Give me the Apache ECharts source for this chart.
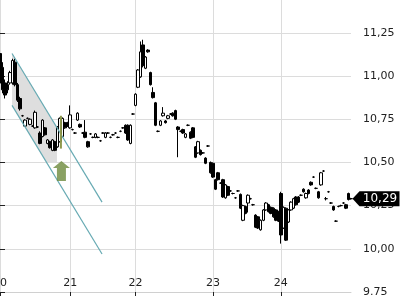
<!DOCTYPE html>
<html>
<head>
<meta charset="utf-8">
<style>
  html, body { margin: 0; padding: 0; background: #fff; }
  #chart-container { width: 400px; height: 300px; }
</style>
<script src="https://cdn.jsdelivr.net/npm/echarts@6.0.0/dist/echarts.min.js"></script>
</head>
<body>
<div id="chart-container"></div>
<script>
// one row per bar: [open, close, low, high]
const day20Bars = [
  [11.13, 10.96, 10.94, 11.20], [11.05, 10.92, 10.90, 11.08], [10.96, 10.89, 10.87, 10.98],
  [10.95, 10.92, 10.90, 10.97], [10.96, 11.02, 10.95, 11.03], [10.96, 11.09, 10.95, 11.10],
  [11.08, 10.95, 10.94, 11.10], [10.95, 10.86, 10.85, 10.96], [10.87, 10.81, 10.80, 10.88],
  [10.77, 10.77, 10.765, 10.775], [10.71, 10.745, 10.705, 10.75], [10.755, 10.755, 10.75, 10.76],
  [10.72, 10.75, 10.715, 10.755], [10.71, 10.71, 10.705, 10.715], [10.70, 10.79, 10.695, 10.80],
  [10.705, 10.705, 10.70, 10.71], [10.67, 10.61, 10.605, 10.68], [10.65, 10.745, 10.645, 10.75],
  [10.70, 10.66, 10.655, 10.705], [10.61, 10.63, 10.605, 10.635], [10.62, 10.585, 10.58, 10.625],
  [10.57, 10.63, 10.565, 10.635], [10.62, 10.57, 10.565, 10.625], [10.59, 10.705, 10.585, 10.71],
  [10.62, 10.755, 10.615, 10.76], [10.65, 10.755, 10.645, 10.76], [10.73, 10.70, 10.695, 10.735],
  [10.73, 10.71, 10.705, 10.735],
];
const day21Bars = [
  [10.70, 10.775, 10.695, 10.83], [10.69, 10.69, 10.685, 10.695], [10.67, 10.67, 10.665, 10.675],
  [10.745, 10.785, 10.74, 10.79], [10.72, 10.705, 10.70, 10.725], [10.67, 10.67, 10.665, 10.675],
  [10.675, 10.645, 10.64, 10.745], [10.62, 10.59, 10.585, 10.625], [10.665, 10.665, 10.66, 10.67],
  [10.645, 10.645, 10.64, 10.65], [10.645, 10.665, 10.64, 10.67], [10.645, 10.645, 10.64, 10.65],
  [10.625, 10.625, 10.62, 10.63], [10.67, 10.67, 10.665, 10.675], [10.645, 10.67, 10.64, 10.675],
  [10.67, 10.67, 10.665, 10.675], [10.645, 10.645, 10.64, 10.65], [10.66, 10.66, 10.655, 10.665],
  [10.67, 10.67, 10.665, 10.675], [10.645, 10.645, 10.64, 10.65], [10.68, 10.68, 10.675, 10.685],
  [10.70, 10.70, 10.695, 10.705], [10.715, 10.67, 10.665, 10.72], [10.715, 10.63, 10.625, 10.72],
  [10.61, 10.715, 10.605, 10.72], [10.78, 10.78, 10.775, 10.785],
];
const day22Bars = [
  [10.83, 10.895, 10.825, 10.90], [10.935, 11.035, 10.93, 11.04], [10.995, 11.14, 10.99, 11.20],
  [11.18, 11.06, 11.05, 11.21], [11.045, 11.11, 11.04, 11.115], [11.15, 11.14, 11.135, 11.155],
  [11.02, 10.95, 10.945, 11.025], [10.905, 10.875, 10.87, 10.935], [10.845, 10.715, 10.71, 10.85],
  [10.68, 10.68, 10.675, 10.685], [10.715, 10.74, 10.71, 10.745], [10.77, 10.785, 10.765, 10.82],
  [10.74, 10.73, 10.725, 10.745], [10.755, 10.77, 10.75, 10.775], [10.78, 10.78, 10.775, 10.785],
  [10.785, 10.77, 10.765, 10.79], [10.80, 10.75, 10.745, 10.805], [10.705, 10.69, 10.53, 10.71],
  [10.68, 10.68, 10.675, 10.685], [10.69, 10.67, 10.665, 10.695], [10.645, 10.665, 10.64, 10.67],
  [10.715, 10.715, 10.71, 10.72], [10.675, 10.64, 10.635, 10.68], [10.70, 10.645, 10.64, 10.705],
  [10.59, 10.53, 10.525, 10.595], [10.555, 10.62, 10.55, 10.625], [10.57, 10.545, 10.54, 10.575],
  [10.555, 10.555, 10.55, 10.56], [10.525, 10.495, 10.49, 10.53], [10.595, 10.595, 10.59, 10.60],
  [10.50, 10.44, 10.435, 10.505],
];
const day23Bars = [
  [10.495, 10.415, 10.41, 10.50], [10.40, 10.345, 10.34, 10.405], [10.44, 10.40, 10.395, 10.445],
  [10.38, 10.38, 10.375, 10.385], [10.40, 10.30, 10.295, 10.405], [10.295, 10.37, 10.29, 10.375],
  [10.36, 10.31, 10.305, 10.365], [10.335, 10.335, 10.33, 10.34], [10.32, 10.32, 10.315, 10.325],
  [10.295, 10.295, 10.29, 10.30], [10.335, 10.335, 10.33, 10.34], [10.315, 10.235, 10.23, 10.32],
  [10.165, 10.25, 10.16, 10.255], [10.245, 10.205, 10.20, 10.25], [10.265, 10.31, 10.21, 10.315],
  [10.29, 10.29, 10.285, 10.295], [10.255, 10.255, 10.25, 10.26], [10.195, 10.125, 10.12, 10.20],
  [10.185, 10.12, 10.115, 10.19], [10.11, 10.165, 10.105, 10.17], [10.165, 10.225, 10.16, 10.23],
  [10.225, 10.265, 10.22, 10.27], [10.255, 10.215, 10.21, 10.26], [10.24, 10.205, 10.20, 10.245],
  [10.235, 10.185, 10.18, 10.24], [10.225, 10.165, 10.16, 10.23], [10.215, 10.16, 10.155, 10.22],
];
const day24Bars = [
  [10.32, 10.08, 10.03, 10.33], [10.12, 10.24, 10.115, 10.245], [10.235, 10.05, 10.045, 10.24],
  [10.155, 10.225, 10.15, 10.23], [10.225, 10.27, 10.22, 10.275], [10.235, 10.29, 10.23, 10.295],
  [10.30, 10.255, 10.25, 10.305], [10.30, 10.27, 10.265, 10.305], [10.31, 10.31, 10.305, 10.315],
  [10.345, 10.33, 10.325, 10.35], [10.295, 10.32, 10.29, 10.325], [10.34, 10.32, 10.315, 10.345],
  [10.385, 10.37, 10.365, 10.39], [10.415, 10.415, 10.41, 10.42], [10.35, 10.35, 10.345, 10.355],
  [10.33, 10.295, 10.29, 10.335], [10.37, 10.44, 10.365, 10.445], [10.45, 10.45, 10.445, 10.455],
  [10.29, 10.29, 10.28, 10.30], [10.33, 10.33, 10.325, 10.335], [10.265, 10.265, 10.26, 10.27],
  [10.245, 10.225, 10.22, 10.25], [10.16, 10.16, 10.155, 10.165], [10.245, 10.245, 10.24, 10.25],
  [10.25, 10.25, 10.245, 10.255], [10.265, 10.265, 10.26, 10.27], [10.255, 10.235, 10.23, 10.26],
  [10.32, 10.285, 10.28, 10.325], [10.29, 10.29, 10.285, 10.295],
];

const dayLabels = ['20', '21', '22', '23', '24'];
const yTicks = [9.75, 10, 10.25, 10.5, 10.75, 11, 11.25];
const lastPrice = 10.29;

// drawn annotations, [bar position, price]
const channelUpper = [[4.8, 11.13], [40.7, 10.27]];
const channelLower = [[4.8, 10.83], [40.7, 9.97]];
const channelFill = [[4.8, 11.13], [22.7, 10.70], [22.7, 10.50], [18.5, 10.50], [4.8, 10.83]];
const signalLine = [[24.3, 10.77], [24.3, 10.58]];
const signalArrow = [[24.5, 10.45]];

const days = [day20Bars, day21Bars, day22Bars, day23Bars, day24Bars];
const categories = [];
const dayStart = {};
const dayStartIdx = [];
const bars = [];
days.forEach((d, i) => {
  dayStart[categories.length] = dayLabels[i];
  dayStartIdx.push(categories.length);
  d.forEach((b, j) => {
    categories.push(dayLabels[i] + '|' + j);
    bars.push(b);
  });
});
const lastIndex = bars.length - 1;
const isDayStart = (index) => dayStart[index] !== undefined;

const TEAL = '#67aab3';
const FONT = 'DejaVu Sans';

const chart = echarts.init(document.getElementById('chart-container'), null, { renderer: 'canvas' });

chart.setOption({
  animation: false,
  textStyle: { fontFamily: FONT },
  // keep the plot where it is; the first day label may run off the left edge
  grid: { left: 0, right: 49, top: 0, bottom: 8, outerBoundsMode: 'none', containLabel: false },
  xAxis: [
    {
      type: 'category',
      data: categories,
      boundaryGap: false,
      axisLine: { lineStyle: { color: '#d0d0d0' } },
      axisTick: { interval: isDayStart, length: 4, lineStyle: { color: '#222' } },
      axisLabel: { show: false },
      splitLine: { show: true, interval: isDayStart, lineStyle: { color: '#dcdcdc' } },
    },
    {
      // day labels, drawn on the index scale
      type: 'value',
      position: 'bottom',
      min: 0,
      max: lastIndex,
      axisLine: { show: false },
      axisTick: { show: false },
      splitLine: { show: false },
      axisLabel: {
        customValues: dayStartIdx,
        showMinLabel: true,
        margin: -14,
        align: 'center',
        color: '#222',
        fontSize: 11,
        fontFamily: FONT,
        formatter: (v) => dayStart[v] || '',
      },
    },
  ],
  yAxis: {
    type: 'value',
    position: 'right',
    min: 9.75,
    max: 11.44,
    interval: 0.25,
    axisLine: { show: false },
    axisTick: { show: true, length: 5, customValues: yTicks, lineStyle: { color: '#222' } },
    axisLabel: {
      margin: 12,
      color: '#222',
      fontSize: 11,
      fontFamily: FONT,
      customValues: yTicks,
      formatter: (v) => (v === 9.75 ? '9.75' : v.toFixed(2).replace('.', ',')),
    },
    splitLine: { lineStyle: { color: '#dcdcdc' } },
  },
  series: [
    {
      type: 'custom',
      xAxisIndex: 1,
      z: 1,
      silent: true,
      data: channelFill,
      renderItem: (params, api) => {
        if (params.dataIndex !== 0) return null;
        return {
          type: 'polygon',
          shape: { points: channelFill.map((p) => api.coord(p)) },
          style: { fill: '#dedede' },
        };
      },
    },
    {
      type: 'candlestick',
      z: 3,
      clip: false,
      barWidth: 3,
      data: bars,
      itemStyle: {
        color: '#ffffff',
        color0: '#000000',
        borderColor: '#000000',
        borderColor0: '#000000',
        borderColorDoji: '#000000',
        borderWidth: 1,
      },
      markPoint: {
        symbol: 'path://M0,7 L7,0 H47 V14 H7 Z',
        symbolSize: [47, 15],
        symbolKeepAspect: false,
        symbolOffset: [25, 0],
        itemStyle: { color: '#000' },
        label: {
          show: true,
          color: '#fff',
          fontSize: 12,
          fontFamily: FONT,
          offset: [4, 0],
          formatter: () => lastPrice.toFixed(2).replace('.', ','),
        },
        data: [{ coord: [lastIndex, lastPrice] }],
      },
    },
    {
      type: 'line',
      xAxisIndex: 1,
      z: 4,
      symbol: 'none',
      data: channelUpper,
      lineStyle: { color: TEAL, width: 1.2 },
    },
    {
      type: 'line',
      xAxisIndex: 1,
      z: 4,
      symbol: 'none',
      data: channelLower,
      lineStyle: { color: TEAL, width: 1.2 },
    },
    {
      type: 'line',
      xAxisIndex: 1,
      z: 4,
      symbol: 'none',
      data: signalLine,
      lineStyle: { color: '#8f9a4e', width: 2 },
    },
    {
      type: 'scatter',
      xAxisIndex: 1,
      z: 5,
      data: signalArrow,
      symbol: 'path://M8.5,0 L17,7 L13,7 L13,20 L4,20 L4,7 L0,7 Z',
      symbolSize: [17, 20],
      symbolKeepAspect: false,
      itemStyle: { color: '#6d8a3c' },
    },
  ],
});
</script>
</body>
</html>
